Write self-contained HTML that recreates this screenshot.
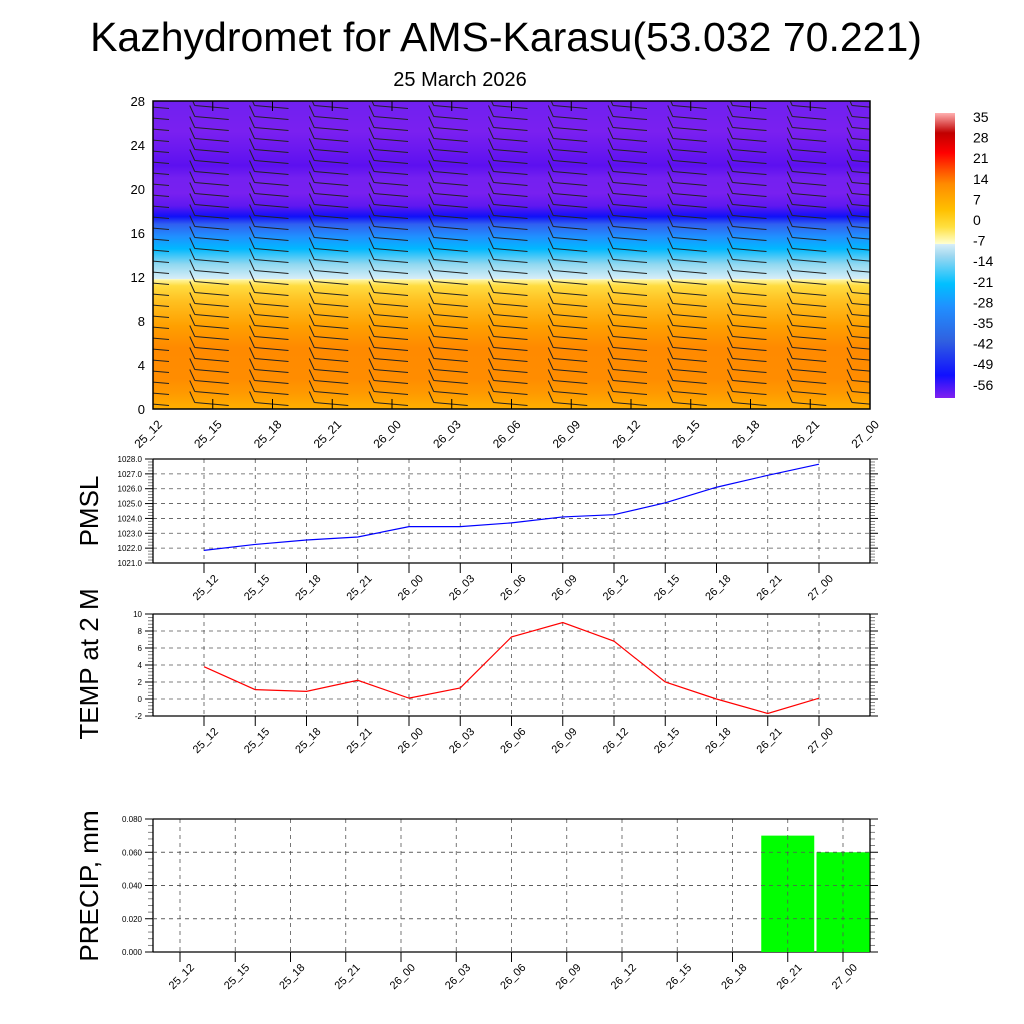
<!DOCTYPE html>
<html><head><meta charset="utf-8"><style>
html,body{margin:0;padding:0;background:#fff;}
svg{display:block;font-family:"Liberation Sans",Arial,sans-serif;}
</style></head><body>
<svg id="chart" width="1024" height="1024" viewBox="0 0 1024 1024">
<defs>
<clipPath id="topclip"><rect x="153" y="101" width="717" height="308"/></clipPath>
<linearGradient id="tgrad" x1="0" y1="1" x2="0" y2="0">
<stop offset="0" stop-color="#ffb000"/>
<stop offset="0.05" stop-color="#ff9a00"/>
<stop offset="0.1" stop-color="#ff8c00"/>
<stop offset="0.2" stop-color="#ff8a00"/>
<stop offset="0.27" stop-color="#ffa000"/>
<stop offset="0.35" stop-color="#ffc020"/>
<stop offset="0.4" stop-color="#ffdc40"/>
<stop offset="0.42" stop-color="#fff6a0"/>
<stop offset="0.421" stop-color="#ffffd0"/>
<stop offset="0.422" stop-color="#d8eef8"/>
<stop offset="0.47" stop-color="#90d8f0"/>
<stop offset="0.52" stop-color="#00b8ff"/>
<stop offset="0.56" stop-color="#2090ff"/>
<stop offset="0.6" stop-color="#3060f0"/>
<stop offset="0.625" stop-color="#1010f8"/>
<stop offset="0.66" stop-color="#6018f0"/>
<stop offset="0.7" stop-color="#7820f0"/>
<stop offset="0.75" stop-color="#7420f0"/>
<stop offset="0.79" stop-color="#5c10f0"/>
<stop offset="0.84" stop-color="#6a18f0"/>
<stop offset="0.9" stop-color="#7a20f0"/>
<stop offset="1" stop-color="#7020f0"/>
</linearGradient>
<linearGradient id="cbgrad" x1="0" y1="1" x2="0" y2="0">
<stop offset="0" stop-color="#8020f0"/>
<stop offset="0.08" stop-color="#1010ff"/>
<stop offset="0.2" stop-color="#3060e0"/>
<stop offset="0.32" stop-color="#2090ff"/>
<stop offset="0.4" stop-color="#00c0ff"/>
<stop offset="0.5" stop-color="#a0d8f0"/>
<stop offset="0.54" stop-color="#d8eef8"/>
<stop offset="0.541" stop-color="#ffffd0"/>
<stop offset="0.6" stop-color="#ffe040"/>
<stop offset="0.66" stop-color="#ffc000"/>
<stop offset="0.75" stop-color="#ff8c00"/>
<stop offset="0.8" stop-color="#ff5000"/>
<stop offset="0.86" stop-color="#ff0000"/>
<stop offset="0.93" stop-color="#c00000"/>
<stop offset="1" stop-color="#ffb0b0"/>
</linearGradient>
</defs>
<text x="506" y="51" font-size="41" text-anchor="middle">Kazhydromet for AMS-Karasu(53.032 70.221)</text>
<text x="460" y="86" font-size="20" text-anchor="middle">25 March 2026</text>
<g id="topPanel"></g>
<g id="cb"></g>
<g id="p1"></g>
<g id="p2"></g>
<g id="p3"></g>
<text transform="translate(98,511) rotate(-90)" font-size="26" text-anchor="middle">PMSL</text>
<text transform="translate(98,664) rotate(-90)" font-size="26" text-anchor="middle">TEMP at 2 M</text>
<text transform="translate(98,886) rotate(-90)" font-size="26" text-anchor="middle">PRECIP, mm</text>
</svg>
<script>
const times = ["25_12","25_15","25_18","25_21","26_00","26_03","26_06","26_09","26_12","26_15","26_18","26_21","27_00"];
const pmsl = [1021.85,1022.25,1022.55,1022.75,1023.45,1023.45,1023.7,1024.1,1024.25,1025.05,1026.1,1026.9,1027.65];
const temp2m = [3.8,1.1,0.9,2.2,0.1,1.3,7.3,9.0,6.8,2.0,0.0,-1.7,0.1];
const precip = [0,0,0,0,0,0,0,0,0,0,0,0.070,0.060];
const heightTicks = [0,4,8,12,16,20,24,28];
const colorbarLabels = ["35","28","21","14","7","0","-7","-14","-21","-28","-35","-42","-49","-56"];
const pmslTicks = [1021,1022,1023,1024,1025,1026,1027,1028];
const tempTicks = [-2,0,2,4,6,8,10];
const precipTicks = [0,0.02,0.04,0.06,0.08];

const NS="http://www.w3.org/2000/svg";
function mk(parent,tag,attrs){const e=document.createElementNS(NS,tag);for(const k in attrs)e.setAttribute(k,attrs[k]);parent.appendChild(e);return e;}

/* top panel */
const topG=document.getElementById('topPanel');
const TX0=153,TX1=870,TY0=101,TY1=409;
const tx=i=>TX0+i*(TX1-TX0)/(times.length-1);
const ty=v=>TY1-(v/28)*(TY1-TY0);
const bg=mk(topG,'rect',{x:TX0,y:TY0,width:TX1-TX0,height:TY1-TY0,fill:'url(#tgrad)'});


const barbs=mk(topG,'g',{'clip-path':'url(#topclip)'});


for(let i=0;i<times.length;i++){
  for(let h=0;h<=27;h++){
    const cx=tx(i),cy=ty(h+0.5);
    const b=mk(barbs,'path',{d:`M${cx-18},${cy-1}L${cx+16},${cy+2}M${cx-18},${cy-1}L${cx-23},${cy-12}`,stroke:'#222',fill:'none','stroke-width':1});
    
    
  }
}
const fr=mk(topG,'rect',{x:TX0,y:TY0,width:TX1-TX0,height:TY1-TY0,fill:'none',stroke:'#000','stroke-width':1.5});


heightTicks.forEach(v=>{
  const t=mk(topG,'text',{x:TX0-8,y:ty(v)+5,'font-size':13,'text-anchor':'end'});t.textContent=v;
  
  
});
times.forEach((s,i)=>{
  const x=tx(i);
  mk(topG,'line',{x1:x,x2:x,y1:TY0,y2:TY0+10,stroke:'#000'});
  mk(topG,'line',{x1:x,x2:x,y1:TY1,y2:TY1-10,stroke:'#000'});
  const t=mk(topG,'text',{transform:`translate(${x-2},${TY1+28}) rotate(-45)`,'font-size':12,'text-anchor':'middle'});t.textContent=s;
  
  
});

/* colorbar */
const cbG=document.getElementById('cb');
const cbr=mk(cbG,'rect',{x:935,y:113,width:20,height:285,fill:'url(#cbgrad)'});


colorbarLabels.forEach((s,i)=>{
  const t=mk(cbG,'text',{x:973,y:122+i*20.6,'font-size':14});t.textContent=s;
  
  
});

/* generic line panel */
function panel(g,y0,y1,ticks,vmin,vmax,fmt,xFirst,xLast,labFs){
  const X0=153,X1=870;
  const sx=i=>xFirst+i*(xLast-xFirst)/(times.length-1);
  const sy=v=>y1-(v-vmin)/(vmax-vmin)*(y1-y0);
  ticks.forEach(v=>{
    const y=sy(v);
    if(v!==vmin&&v!==vmax){mk(g,'line',{x1:X0,x2:X1,y1:y,y2:y,stroke:'#555','stroke-dasharray':'4,4','stroke-width':0.8});}
    mk(g,'line',{x1:X0-8,x2:X0,y1:y,y2:y,stroke:'#000'});
    mk(g,'line',{x1:X1,x2:X1+8,y1:y,y2:y,stroke:'#000'});
    const t=mk(g,'text',{x:X0-11,y:y+3,'font-size':labFs,'text-anchor':'end'});t.textContent=fmt(v);
    
    
  });
  const nm=5;
  for(let k=0;k<ticks.length-1;k++){
    for(let m=1;m<nm;m++){
      const y=sy(ticks[k]+(ticks[k+1]-ticks[k])*m/nm);
      mk(g,'line',{x1:X0-5,x2:X0,y1:y,y2:y,stroke:'#666','stroke-width':0.8});
      mk(g,'line',{x1:X1,x2:X1+5,y1:y,y2:y,stroke:'#666','stroke-width':0.8});
    }
  }
  times.forEach((s,i)=>{
    const x=sx(i);
    mk(g,'line',{x1:x,x2:x,y1:y0,y2:y1,stroke:'#555','stroke-dasharray':'4,4','stroke-width':0.8});
    mk(g,'line',{x1:x,x2:x,y1:y1,y2:y1+10,stroke:'#000'});
    const t=mk(g,'text',{transform:`translate(${x+4},${y1+27}) rotate(-45)`,'font-size':11,'text-anchor':'middle'});t.textContent=s;
    
    
  });
  mk(g,'line',{x1:X0,x2:X1,y1:y0,y2:y0,stroke:'#000','stroke-width':1.3});
  mk(g,'line',{x1:X0,x2:X1,y1:y1,y2:y1,stroke:'#000','stroke-width':1.3});
  mk(g,'line',{x1:X0,x2:X0,y1:y0,y2:y1,stroke:'#000','stroke-width':1.3});
  mk(g,'line',{x1:X1,x2:X1,y1:y0,y2:y1,stroke:'#000','stroke-width':1.3});
  return {sx,sy};
}
const g1=document.getElementById('p1');
const a1=panel(g1,459,563,pmslTicks,1021,1028,v=>v.toFixed(1),204,819,8);
const l1=mk(g1,'polyline',{points:pmsl.map((v,i)=>`${a1.sx(i)},${a1.sy(v)}`).join(' '),fill:'none',stroke:'#0000ff','stroke-width':1.2});



const g2=document.getElementById('p2');
const a2=panel(g2,614,716,tempTicks,-2,10,v=>String(v),204,819,8);
const l2=mk(g2,'polyline',{points:temp2m.map((v,i)=>`${a2.sx(i)},${a2.sy(v)}`).join(' '),fill:'none',stroke:'#ff0000','stroke-width':1.2});



const g3=document.getElementById('p3');
const a3=panel(g3,819,952,precipTicks,0,0.08,v=>v.toFixed(3),180,843,8);
const bw=53;
precip.forEach((v,i)=>{
  if(v<=0)return;
  const x=a3.sx(i);
  const r=mk(g3,'rect',{x:x-bw/2,y:a3.sy(v),width:bw,height:a3.sy(0)-a3.sy(v),fill:'#00ff00'});
  
  
  mk(g3,'line',{x1:x,x2:x,y1:a3.sy(v),y2:a3.sy(0),stroke:'#555','stroke-dasharray':'4,4','stroke-width':0.8});
});
precipTicks.forEach(v=>{ if(v>0&&v<0.08) mk(g3,'line',{x1:153,x2:870,y1:a3.sy(v),y2:a3.sy(v),stroke:'#555','stroke-dasharray':'4,4','stroke-width':0.8}); });
</script>
</body></html>
